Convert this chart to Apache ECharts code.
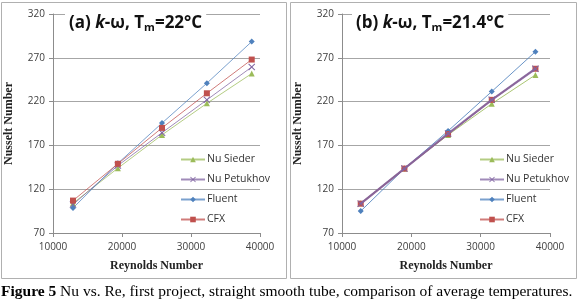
<!DOCTYPE html>
<html>
<head>
<meta charset="utf-8">
<script src="https://cdn.jsdelivr.net/npm/echarts@6/dist/echarts.min.js"></script>
<style>
  html, body { margin: 0; padding: 0; background: #fff; }
  #main { width: 580px; height: 304px; }
</style>
</head>
<body>
<div id="main"></div>
<script>
// panel (a): k-omega, Tm = 22 C
const reA = [12900, 19400, 25800, 32300, 38800];
const siederA = [104, 144, 182, 218, 252];
const petukhovA = [102.5, 147, 184.5, 222, 259.5];
const fluentA = [98.5, 149.5, 195.5, 241, 288.5];
const cfxA = [107, 149, 190, 229.5, 268];

// panel (b): k-omega, Tm = 21.4 C
const reB = [12700, 19000, 25300, 31600, 37900];
const siederB = [104, 143.5, 182, 217.5, 250.5];
const petukhovB = [103.5, 143.5, 183.5, 222, 257.5];
const fluentB = [95, 143.5, 186.5, 231.5, 277];
const cfxB = [103.5, 143.5, 183, 222, 257.5];

const names = ['Nu Sieder', 'Nu Petukhov', 'Fluent', 'CFX'];
const colors = ['#9BBB59', '#8064A2', '#4F81BD', '#C0504D'];
const xSym = 'path://M0,1L1,0L5,4L9,0L10,1L6,5L10,9L9,10L5,6L1,10L0,9L4,5Z';
const symbols = ['triangle', xSym, 'diamond', 'rect'];
const symSizes = [6, 7, 6, 6];

function pairs(xs, ys) {
    return xs.map((x, i) => [x, ys[i]]);
}

const chart = echarts.init(document.getElementById('main'), null, { renderer: 'canvas' });

const axisGray = '#8c8c8c';
const labelFont = { fontFamily: 'Open Sans', fontSize: 10, color: '#404040' };
const nameFont = { fontFamily: 'Liberation Serif', fontWeight: 'bold', fontSize: 12, color: '#222' };

function xAxis(idx) {
    return {
        gridIndex: idx, type: 'value', min: 10000, max: 40000, interval: 10000,
        name: 'Reynolds Number', nameLocation: 'middle', nameGap: 27, nameTextStyle: nameFont,
        axisLine: { lineStyle: { color: axisGray } },
        axisTick: { show: true, length: 4, lineStyle: { color: axisGray } },
        axisLabel: Object.assign({ margin: 9, formatter: v => String(v) }, labelFont),
        splitLine: { show: false }
    };
}
function yAxis(idx) {
    return {
        gridIndex: idx, type: 'value', min: 70, max: 320, interval: 50,
        name: 'Nusselt Number', nameLocation: 'middle', nameGap: 38, nameTextStyle: nameFont,
        axisLine: { show: true, lineStyle: { color: axisGray } },
        axisTick: { show: true, length: 4, lineStyle: { color: axisGray } },
        axisLabel: Object.assign({ margin: 8 }, labelFont),
        splitLine: { show: true, lineStyle: { color: '#a6a6a6' } }
    };
}

const setA = [siederA, petukhovA, fluentA, cfxA];
const setB = [siederB, petukhovB, fluentB, cfxB];
const widthsA = [1, 1, 1, 1];
const widthsB = [1, 2.2, 1, 1.5];
const series = [];
setA.forEach((ys, i) => {
    series.push({
        name: names[i], type: 'line', xAxisIndex: 0, yAxisIndex: 0,
        data: pairs(reA, ys), symbol: symbols[i], symbolSize: symSizes[i],
        itemStyle: { color: colors[i] },
        lineStyle: { width: widthsA[i], color: colors[i], opacity: 0.75 },
        animation: false
    });
});
setB.forEach((ys, i) => {
    series.push({
        name: names[i], type: 'line', xAxisIndex: 1, yAxisIndex: 1,
        data: pairs(reB, ys), symbol: symbols[i], symbolSize: symSizes[i],
        itemStyle: { color: colors[i] },
        lineStyle: { width: widthsB[i], color: colors[i], opacity: 0.85 },
        z: i === 1 ? 3 : 2,
        animation: false
    });
});

function legend(left) {
    return {
        orient: 'vertical', left: left, top: 149, itemWidth: 24, itemHeight: 7, itemGap: 9,
        data: names,
        textStyle: { fontFamily: 'Open Sans', fontSize: 10.5, color: '#333', padding: [0, 0, 0, -3] }
    };
}

function panelTitle(label, left, temp) {
    return {
        text: '{n|' + label + ' }{i|k}{n|-ω, T}{s|m}{n|=' + temp + '°C}',
        left: left, top: 12, padding: [2, 4, 2, 4], backgroundColor: '#fff',
        textStyle: {
            rich: {
                n: { fontFamily: 'Open Sans', fontWeight: 'bold', fontSize: 17, color: '#111' },
                i: { fontFamily: 'Open Sans', fontWeight: 'bold', fontStyle: 'italic', fontSize: 17, color: '#111' },
                s: { fontFamily: 'Open Sans', fontWeight: 'bold', fontSize: 11, color: '#111', verticalAlign: 'bottom', padding: [8, 0, 0, 0] }
            }
        }
    };
}

chart.setOption({
    animation: false,
    title: [panelTitle('(a)', 65, '22'), panelTitle('(b)', 352, '21.4')],
    legend: [
        Object.assign(legend(175), { seriesIndex: [0, 1, 2, 3] }),
        Object.assign(legend(474), { seriesIndex: [4, 5, 6, 7] })
    ],
    grid: [
        { left: 53, right: 320, top: 14, bottom: 71 },
        { left: 342, right: 30, top: 14, bottom: 71 }
    ],
    xAxis: [xAxis(0), xAxis(1)],
    yAxis: [yAxis(0), yAxis(1)],
    series: series,
    graphic: [
        { type: 'rect', shape: { x: 1.5, y: 2.5, width: 285, height: 276 }, style: { fill: 'none', stroke: '#b0b0b0', lineWidth: 1 }, z: -1 },
        { type: 'rect', shape: { x: 290.5, y: 2.5, width: 286, height: 276 }, style: { fill: 'none', stroke: '#b0b0b0', lineWidth: 1 }, z: -1 },
        {
            type: 'text', left: 1, top: 284,
            style: {
                text: '{b|Figure 5} Nu vs. Re, first project, straight smooth tube, comparison of average temperatures.',
                rich: { b: { fontFamily: 'Liberation Serif', fontWeight: 'bold', fontSize: 15.5, fill: '#000' } },
                font: '15.5px "Liberation Serif"', fill: '#000'
            }
        }
    ]
});
</script>
</body>
</html>
